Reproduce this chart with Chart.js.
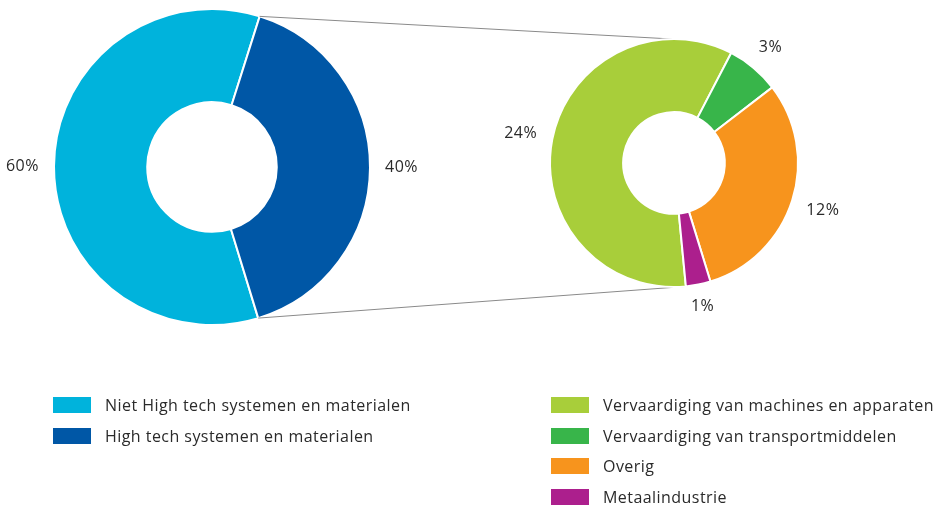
<!DOCTYPE html>
<html>
<head>
<meta charset="utf-8">
<script src="https://cdn.jsdelivr.net/npm/chart.js@4"></script>
<style>
  body { margin: 0; background: #fff; font-family: "Open Sans", sans-serif; }
  #wrap { position: relative; width: 945px; height: 506px; overflow: hidden; }
  canvas { position: absolute; top: 0; }
  #links { left: 0; }
  #rechts { left: 480px; }
  .legenda { position: absolute; top: 397px; }
  .item { height: 16px; margin-bottom: 14.5px; display: flex; align-items: center; font-size: 16px; letter-spacing: 0.45px; color: #2a2a2a; white-space: nowrap; }
  .blok { width: 38px; height: 16px; margin-right: 14px; flex: none; }
</style>
</head>
<body>
<div id="wrap">
  <canvas id="links" width="945" height="506"></canvas>
  <canvas id="rechts" width="465" height="340"></canvas>
  <div class="legenda" id="leg_links" style="left:53px"></div>
  <div class="legenda" id="leg_rechts" style="left:551px"></div>
</div>
<script>
// linker donut: aandeel in totaal (%)
const cat_links = ['Niet High tech systemen en materialen', 'High tech systemen en materialen']
const val_links = [59.6, 40.4]
const kleur_links = ['#00b3dc', '#0057a6']

// rechter donut: uitsplitsing van high tech (%)
const cat_rechts = ['Vervaardiging van machines en apparaten', 'Vervaardiging van transportmiddelen', 'Overig', 'Metaalindustrie']
const val_rechts = [23.9, 2.8, 12.4, 1.3]
const kleur_rechts = ['#a8ce3a', '#38b54a', '#f7941d', '#ac1f8d']

let rechtsChart = null

const labelPlugin = {
  id: 'percentages',
  afterDatasetsDraw(chart) {
    const ctx = chart.ctx
    const meta = chart.getDatasetMeta(0)
    const data = chart.data.datasets[0].data
    ctx.save()
    ctx.font = '16px "Open Sans", sans-serif'
    ctx.letterSpacing = '0.5px'
    ctx.fillStyle = '#2a2a2a'
    ctx.textAlign = 'center'
    ctx.textBaseline = 'middle'
    meta.data.forEach((arc, i) => {
      const mid = (arc.startAngle + arc.endAngle) / 2
      const tekst = Math.round(data[i]) + '%'
      const w = ctx.measureText(tekst).width
      const cos = Math.cos(mid), sin = Math.sin(mid)
      const afstand = arc.outerRadius + 15 + Math.abs(cos) * w / 2 + Math.abs(sin) * 5
      ctx.fillText(tekst, arc.x + cos * afstand, arc.y + sin * afstand)
    })
    ctx.restore()
  }
}

const lijnPlugin = {
  id: 'verbinding',
  afterDraw(chart) {
    if (!rechtsChart) return
    const ctx = chart.ctx
    const hoog = chart.getDatasetMeta(0).data[1]
    const r0 = rechtsChart.getDatasetMeta(0).data[0]
    const dx = document.getElementById('rechts').offsetLeft
    const a = [hoog.x + Math.cos(hoog.startAngle) * hoog.outerRadius, hoog.y + Math.sin(hoog.startAngle) * hoog.outerRadius]
    const b = [hoog.x + Math.cos(hoog.endAngle) * hoog.outerRadius, hoog.y + Math.sin(hoog.endAngle) * hoog.outerRadius]
    const c = [dx + r0.x - 2, r0.y - r0.outerRadius]
    const d = [dx + r0.x + Math.cos(r0.startAngle) * r0.outerRadius, r0.y + Math.sin(r0.startAngle) * r0.outerRadius]
    ctx.save()
    ctx.strokeStyle = '#8a8a8a'
    ctx.lineWidth = 1
    ctx.beginPath()
    ctx.moveTo(a[0], a[1]); ctx.lineTo(c[0], c[1])
    ctx.moveTo(b[0], b[1]); ctx.lineTo(d[0], d[1])
    ctx.stroke()
    ctx.restore()
  }
}

const basisOpties = (rotatie, padding) => ({
  responsive: false,
  animation: false,
  cutout: '41%',
  rotation: rotatie,
  layout: { padding: padding },
  plugins: { legend: { display: false }, tooltip: { enabled: false } }
})

const linksChart = new Chart(document.getElementById('links'), {
  type: 'doughnut',
  data: { labels: cat_links, datasets: [{ data: val_links, backgroundColor: kleur_links, borderColor: '#fff', borderWidth: 2 }] },
  options: basisOpties(163, { left: 53, top: 8, right: 574, bottom: 180 }),
  plugins: [labelPlugin, lijnPlugin]
})

rechtsChart = new Chart(document.getElementById('rechts'), {
  type: 'doughnut',
  data: { labels: cat_rechts, datasets: [{ data: val_rechts, backgroundColor: kleur_rechts, borderColor: '#fff', borderWidth: 2 }] },
  options: basisOpties(174.5, { left: 69, top: 38, right: 146, bottom: 52 }),
  plugins: [labelPlugin]
})

linksChart.draw()

const maak_legenda = (id, cats, kleuren) => {
  const el = document.getElementById(id)
  cats.forEach((c, i) => {
    const item = document.createElement('div')
    item.className = 'item'
    item.innerHTML = '<span class="blok" style="background:' + kleuren[i] + '"></span><span>' + c + '</span>'
    el.appendChild(item)
  })
}
maak_legenda('leg_links', cat_links, kleur_links)
maak_legenda('leg_rechts', cat_rechts, kleur_rechts)
</script>
</body>
</html>
